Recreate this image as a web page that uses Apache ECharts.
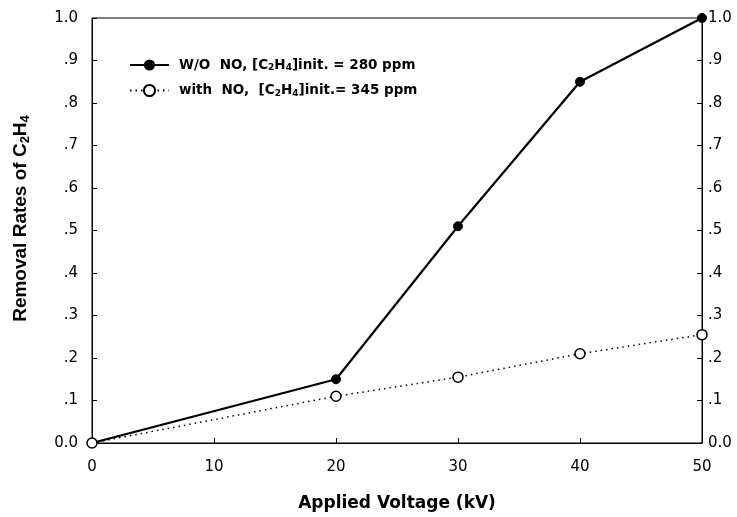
<!DOCTYPE html>
<html><head><meta charset="utf-8">
<script src="https://cdn.jsdelivr.net/npm/echarts@6/dist/echarts.min.js"></script>
<style>html,body{margin:0;padding:0;background:#fff}#c{width:737px;height:517px}</style>
</head><body><div id="c"></div>
<script>
var voltage = [0, 20, 30, 40, 50];
var withoutNO = [0, 0.15, 0.51, 0.85, 1.0];
var withNO = [0, 0.11, 0.155, 0.21, 0.255];
var seriesNames = ['W/O  NO, [C{sub|2}H{sub|4}]init. = 280 ppm', 'with  NO,  [C{sub|2}H{sub|4}]init.= 345 ppm'];
var xTitle = 'Applied Voltage (kV)';
var yTitle = 'Removal Rates of C{sub|2}H{sub|4}';

function yLab(v){ if (Math.abs(v) < 1e-9) return '0.0'; if (Math.abs(v-1) < 1e-9) return '1.0'; return '.' + Math.round(v*10); }
var WIDE = 'DejaVu Sans, Verdana, sans-serif';
var NARROW = 'Liberation Sans, Arial, sans-serif';
var chart = echarts.init(document.getElementById('c'));
var yAxisCommon = {
  type: 'value', min: 0, max: 1, interval: 0.1,
  axisLine: {show: true, lineStyle: {color: '#000', width: 1}},
  axisTick: {show: true, inside: true, length: 5, lineStyle: {color: '#000'}},
  splitLine: {show: false},
  axisLabel: {formatter: yLab, color: '#000', fontFamily: WIDE, fontSize: 15, margin: 14}
};
chart.setOption({
  animation: false,
  grid: {left: 92, right: 35, top: 18, bottom: 72, show: true, borderColor: '#000', borderWidth: 1},
  legend: {
    left: 129, top: 58, padding: 0, orient: 'vertical', itemGap: 11, itemWidth: 39, itemHeight: 14,
    textStyle: {color: '#000', fontFamily: WIDE, fontSize: 13.5, fontWeight: 'bold', lineHeight: 14, padding: [0, 0, 0, 5],
      rich: {sub: {fontSize: 9, fontWeight: 'bold', fontFamily: WIDE, color: '#000', padding: [6, 0, 0, 0]}}},
    data: [seriesNames[0], seriesNames[1]]
  },
  xAxis: {
    type: 'value', min: 0, max: 50, interval: 10,
    name: xTitle, nameLocation: 'middle', nameGap: 52,
    nameTextStyle: {color: '#000', fontFamily: WIDE, fontSize: 17, fontWeight: 'bold'},
    axisLine: {show: true, lineStyle: {color: '#000', width: 1}},
    axisTick: {show: true, inside: true, length: 5, lineStyle: {color: '#000'}},
    splitLine: {show: false},
    axisLabel: {color: '#000', fontFamily: WIDE, fontSize: 15, margin: 17}
  },
  yAxis: [
    Object.assign({}, yAxisCommon, {
      position: 'left', name: yTitle, nameLocation: 'middle', nameGap: 60, nameRotate: 90,
      nameTextStyle: {color: '#000', fontFamily: NARROW, fontSize: 19, fontWeight: 'bold', padding: [0, 0, 0, 24],
        rich: {sub: {fontSize: 13, fontWeight: 'bold', fontFamily: NARROW, color: '#000', padding: [9, 0, 0, 0]}}}
    }),
    Object.assign({}, yAxisCommon, {position: 'right', axisLabel: Object.assign({}, yAxisCommon.axisLabel, {margin: 6})})
  ],
  series: [
    {
      name: seriesNames[0], type: 'line',
      data: voltage.map(function(v, i){ return [v, withoutNO[i]]; }),
      symbol: 'circle', symbolSize: 9,
      lineStyle: {color: '#000', width: 2.2},
      itemStyle: {color: '#000', borderColor: '#000'},
      z: 2
    },
    {
      name: seriesNames[1], type: 'line',
      data: voltage.map(function(v, i){ return [v, withNO[i]]; }),
      symbol: 'circle', symbolSize: 10,
      lineStyle: {color: '#000', width: 1.5, type: [1.5, 4]},
      itemStyle: {color: '#fff', borderColor: '#000', borderWidth: 1.5},
      z: 3
    }
  ]
});
</script></body></html>
